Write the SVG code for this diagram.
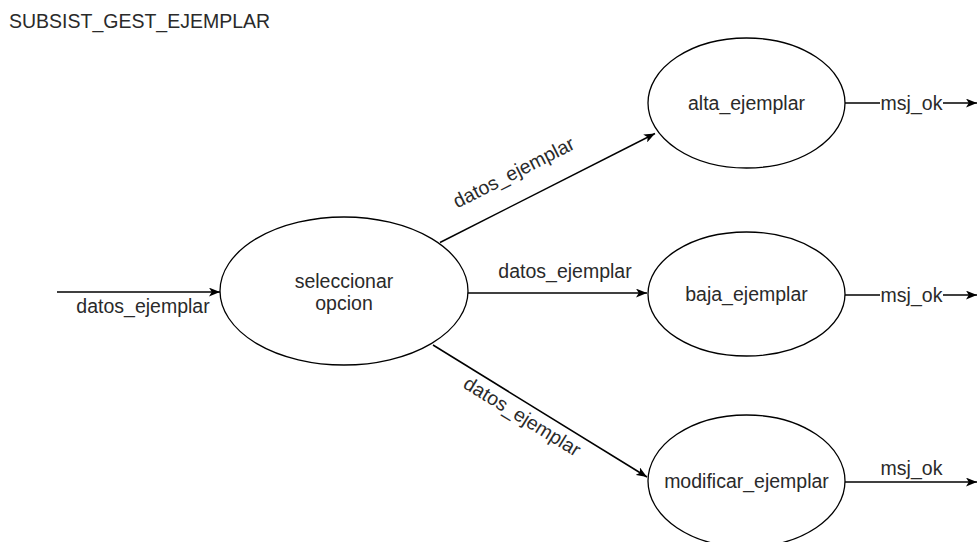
<svg xmlns="http://www.w3.org/2000/svg" width="978" height="542" viewBox="0 0 978 542">
  <style>
    text { font-family: "Liberation Sans", Arial, sans-serif; font-size: 19.5px; fill: #2a2a2a; }
    .node ellipse { fill: #ffffff; stroke: #000000; stroke-width: 1.3; }
    .edge { fill: none; stroke: #000000; stroke-width: 1.5; }
    .lbl { text-anchor: middle; }
  </style>
  <defs>
    <marker id="arrow" viewBox="0 0 10 8" refX="10" refY="4" markerWidth="11" markerHeight="9" markerUnits="userSpaceOnUse" orient="auto">
      <path d="M0,0 L10,4 L0,8 L2.5,4 Z" fill="#000000"/>
    </marker>
  </defs>
  <rect width="978" height="542" fill="#ffffff"/>

  <text x="9" y="28">SUBSIST_GEST_EJEMPLAR</text>

  <!-- connectors -->
  <g id="connectors">
    <line class="edge" x1="57" y1="292" x2="220" y2="292" marker-end="url(#arrow)"/>
    <text class="lbl" x="143" y="313">datos_ejemplar</text>

    <line class="edge" x1="440" y1="242.5" x2="655" y2="133.5" marker-end="url(#arrow)"/>
    <text class="lbl" transform="translate(514,173) rotate(-27)" y="6">datos_ejemplar</text>

    <line class="edge" x1="468" y1="293" x2="647" y2="293" marker-end="url(#arrow)"/>
    <text class="lbl" x="565" y="278">datos_ejemplar</text>

    <line class="edge" x1="433" y1="345" x2="647" y2="477" marker-end="url(#arrow)"/>
    <text class="lbl" transform="translate(522,417) rotate(31.7)" y="6">datos_ejemplar</text>

    <line class="edge" x1="845" y1="103" x2="977" y2="103" marker-end="url(#arrow)"/>
    <rect x="880" y="92" width="63" height="22" fill="#ffffff"/>
    <text class="lbl" x="911.5" y="110">msj_ok</text>

    <line class="edge" x1="845" y1="295" x2="977" y2="295" marker-end="url(#arrow)"/>
    <rect x="880" y="284" width="63" height="22" fill="#ffffff"/>
    <text class="lbl" x="911.5" y="302">msj_ok</text>

    <line class="edge" x1="845" y1="482" x2="977" y2="482" marker-end="url(#arrow)"/>
    <text class="lbl" x="911.5" y="475">msj_ok</text>
  </g>

  <!-- processes -->
  <g id="seleccionar_opcion" class="node">
    <ellipse cx="344" cy="291" rx="124" ry="74"/>
    <text class="lbl" x="344" y="288">seleccionar</text>
    <text class="lbl" x="344" y="310">opcion</text>
  </g>
  <g id="alta_ejemplar" class="node">
    <ellipse cx="746.5" cy="103" rx="98.5" ry="65"/>
    <text class="lbl" x="746.5" y="110">alta_ejemplar</text>
  </g>
  <g id="baja_ejemplar" class="node">
    <ellipse cx="746.5" cy="294" rx="98.5" ry="62"/>
    <text class="lbl" x="746.5" y="301">baja_ejemplar</text>
  </g>
  <g id="modificar_ejemplar" class="node">
    <ellipse cx="746.5" cy="481" rx="98.5" ry="66"/>
    <text class="lbl" x="746.5" y="488">modificar_ejemplar</text>
  </g>
</svg>
